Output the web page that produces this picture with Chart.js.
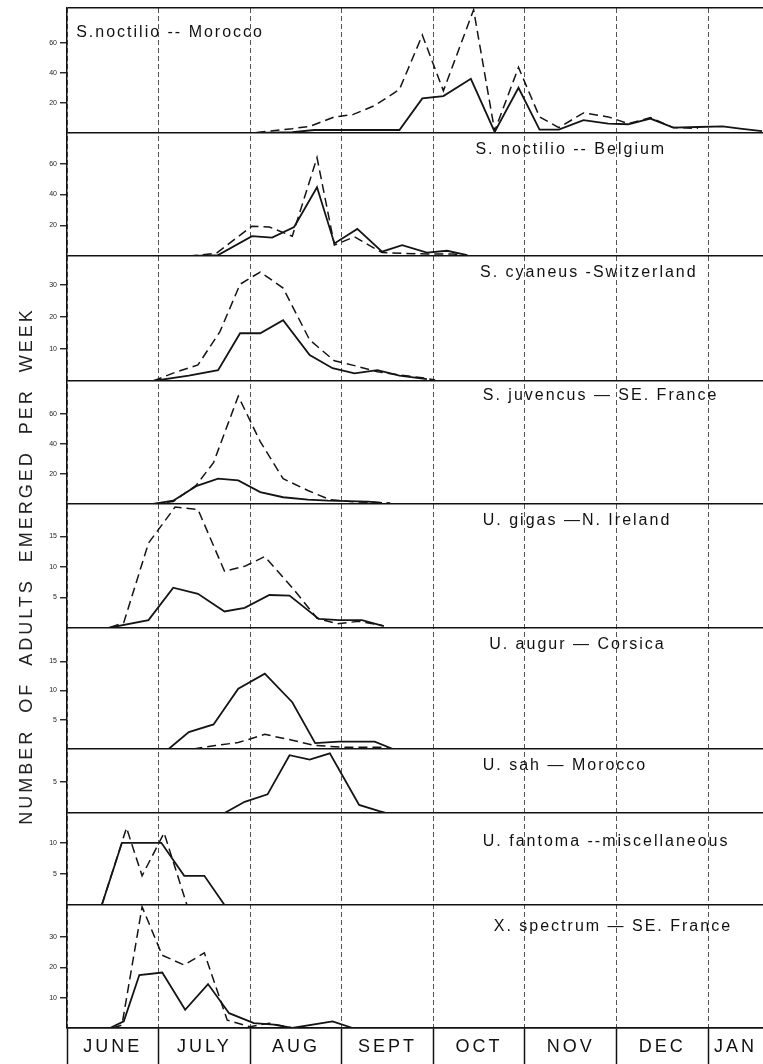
<!DOCTYPE html>
<html>
<head>
<meta charset="utf-8">
<script src="https://cdn.jsdelivr.net/npm/chart.js@4.4.1/dist/chart.umd.min.js"></script>
<style>
html,body{margin:0;padding:0;background:#fff;}
canvas{display:block;}
</style>
</head>
<body>
<canvas id="c" width="763" height="1064"></canvas>
<script>
// ---------- text ----------
const months = ['JUNE','JULY','AUG','SEPT','OCT','NOV','DEC','JAN'];
const panelTitles = [
  'S.noctilio -- Morocco',
  'S. noctilio -- Belgium',
  'S. cyaneus -Switzerland',
  'S. juvencus \u2014 SE. France',
  'U. gigas \u2014N. Ireland',
  'U. augur \u2014 Corsica',
  'U. sah \u2014 Morocco',
  'U. fantoma --miscellaneous',
  'X. spectrum \u2014 SE. France'
];
const yTitle = 'NUMBER  OF  ADULTS  EMERGED  PER  WEEK';

// ---------- tick labels per panel ----------
const panelTicks = [[20,40,60],[20,40,60],[10,20,30],[20,40,60],[5,10,15],[5,10,15],[5],[5,10],[10,20,30]];

// ---------- data (x = months after 1 June, y = adults per week) ----------
// S. noctilio - Morocco
const noctMorSolidX = [2.07,2.46,2.70,3.63,3.88,4.11,4.41,4.67,4.93,5.16,5.37,5.64,5.91,6.13,6.37,6.62,6.89,7.16,7.35,7.59];
const noctMorSolid  = [0,0.5,2,2,23,24.5,36,0.7,30,2.2,2.2,8.5,6.2,5.8,9.6,3.6,4,4.4,2.9,1.3];
const noctMorDashX  = [2.07,2.46,2.65,2.92,3.12,3.36,3.63,3.88,4.11,4.44,4.67,4.93,5.16,5.37,5.64,5.91,6.13,6.37,6.62,6.89];
const noctMorDash   = [0.4,2.9,4.4,10.7,12.2,18.2,28.9,65,28,81.8,1.3,43.6,10.7,3.6,13.3,10.7,6.2,10.2,3.6,3.1];
// S. noctilio - Belgium
const noctBelSolidX = [1.38,1.65,2.02,2.24,2.48,2.73,2.92,3.17,3.44,3.66,3.93,4.15,4.37];
const noctBelSolid  = [0,0.6,12.9,12,18.9,44.7,8.2,17.6,2.8,7.1,2.2,3.4,0.6];
const noctBelDashX  = [1.33,1.63,2.02,2.21,2.46,2.73,2.92,3.14,3.44,3.68,3.93,4.22,4.42];
const noctBelDash   = [0,1.7,19.4,18.9,12.9,64,7.1,12.5,2.2,1.7,1.3,1.3,0];
// S. cyaneus - Switzerland
const cyanSolidX = [0.94,1.33,1.65,1.89,2.11,2.36,2.65,2.90,3.14,3.39,3.63,3.93];
const cyanSolid  = [0,1.7,3.4,14.9,14.9,19,8.1,4,2.4,3.4,1.7,0.6];
const cyanDashX  = [0.94,1.18,1.43,1.67,1.89,2.11,2.36,2.65,2.92,3.14,3.39,3.63,3.88,4.02];
const cyanDash   = [0,2.7,5,15.4,30.2,34,29,12.8,6.3,4.8,2.9,1.9,1,0.3];
// S. juvencus - SE France
const juvSolidX = [0.94,1.16,1.41,1.65,1.87,2.11,2.36,2.63,2.85,3.29,3.44];
const juvSolid  = [0,2.2,11.9,16.9,15.7,7.9,4.5,2.9,2.2,1.6,0.7];
const juvDashX  = [0.94,1.16,1.41,1.60,1.87,2.11,2.36,2.63,2.87,3.09,3.34,3.53];
const juvDash   = [0,1.6,12.4,27.6,71.9,41.6,16.9,9,2.9,1.6,1.1,0.7];
// U. gigas - N. Ireland
const gigasSolidX = [0.45,0.89,1.16,1.43,1.72,1.94,2.21,2.43,2.75,2.97,3.22,3.46];
const gigasSolid  = [0,1.3,6.6,5.6,2.7,3.3,5.4,5.3,1.5,1.3,1.3,0.3];
const gigasDashX  = [0.47,0.62,0.89,1.18,1.43,1.72,1.94,2.16,2.46,2.73,2.95,3.19,3.44];
const gigasDash   = [0.1,0.9,13.9,19.8,19.4,9.3,10.1,11.7,6.6,1.6,0.7,1.1,0.4];
// U. augur - Corsica
const augurSolidX = [1.11,1.33,1.60,1.87,2.16,2.46,2.71,2.97,3.36,3.56];
const augurSolid  = [0,2.9,4.2,10.3,12.9,8,1,1.25,1.25,0];
const augurDashX  = [1.38,1.62,1.87,2.16,2.46,2.71,3.04,3.44,3.56];
const augurDash   = [0,0.6,1.1,2.5,1.5,0.6,0.3,0.3,0];
// U. sah - Morocco
const sahSolidX = [1.72,1.94,2.19,2.43,2.65,2.87,3.19,3.41,3.49];
const sahSolid  = [0,1.8,3,9.3,8.6,9.6,1.3,0.3,0];
// U. fantoma - miscellaneous
const fantSolidX = [0.38,0.60,0.82,1.03,1.28,1.50,1.72];
const fantSolid  = [0,10,10,10,4.7,4.7,0];
const fantDashX  = [0.38,0.65,0.82,1.06,1.31];
const fantDash   = [0,12.4,4.7,11.6,0];
// X. spectrum - SE France
const specSolidX = [0.47,0.62,0.79,1.04,1.29,1.54,1.77,2.04,2.26,2.46,2.90,3.12];
const specSolid  = [0,2.2,17.5,18.3,6,14.5,4.9,1.6,1.1,0,2.2,0];
const specDashX  = [0.50,0.60,0.82,1.04,1.28,1.50,1.75,2.00,2.21,2.46];
const specDash   = [0,1,40,24,20.8,24.8,2.6,0.4,1.6,0];

// ---------- layout (not data) ----------
const panelMax    = [83, 80, 39, 82, 20.3, 20.7, 10.3, 14.8, 40.6];
const panelHeight = [125, 123, 125, 123, 124, 121, 64, 92, 123];
const labelPos    = [[0.10,25],[4.46,17],[4.51,17],[4.54,15],[4.54,17],[4.61,17],[4.54,17],[4.54,29],[4.66,22]];
const xMax = 7.6;
const FONT = "'Liberation Sans', Arial, sans-serif";
const TITLE_PANEL = 4;

const seriesList = [
  [0, noctMorSolidX, noctMorSolid, false], [0, noctMorDashX, noctMorDash, true],
  [1, noctBelSolidX, noctBelSolid, false], [1, noctBelDashX, noctBelDash, true],
  [2, cyanSolidX, cyanSolid, false], [2, cyanDashX, cyanDash, true],
  [3, juvSolidX, juvSolid, false], [3, juvDashX, juvDash, true],
  [4, gigasSolidX, gigasSolid, false], [4, gigasDashX, gigasDash, true],
  [5, augurSolidX, augurSolid, false], [5, augurDashX, augurDash, true],
  [6, sahSolidX, sahSolid, false],
  [7, fantSolidX, fantSolid, false], [7, fantDashX, fantDash, true],
  [8, specSolidX, specSolid, false], [8, specDashX, specDash, true]
];

const datasets = seriesList.map(([p, xs, ys, dashed]) => ({
  type: 'line',
  label: panelTitles[p] + (dashed ? ' (dashed)' : ' (solid)'),
  data: xs.map((x, i) => ({x: x, y: ys[i]})),
  xAxisID: 'x',
  yAxisID: 'y' + (p + 1),
  borderColor: '#141414',
  borderWidth: dashed ? 1.5 : 1.8,
  borderDash: dashed ? [9, 5] : [],
  pointRadius: 0,
  tension: 0,
  fill: false
}));

const scales = {
  x: {
    type: 'linear', position: 'bottom', min: 0, max: xMax,
    afterBuildTicks: (s) => {
      const t = [];
      for (let i = 0; i < months.length; i++) {
        t.push({value: i});
        t.push({value: i === months.length - 1 ? (i + xMax) / 2 : i + 0.5});
      }
      s.ticks = t;
    },
    afterFit: (s) => { s.height = 36; },
    ticks: {
      autoSkip: false, maxRotation: 0, minRotation: 0, padding: -28, z: 1,
      font: {family: FONT, size: 18}, color: '#111',
      callback: (v, i) => (i % 2 === 1 ? months[(i - 1) / 2] : '')
    },
    grid: {
      color: (c) => (c.tick && Number.isInteger(c.tick.value) ? '#555' : 'rgba(0,0,0,0)'),
      lineWidth: 1, tickLength: 36, tickWidth: 1.5, tickBorderDash: [],
      tickColor: (c) => (c.tick && Number.isInteger(c.tick.value) ? '#111' : 'rgba(0,0,0,0)')
    },
    border: {display: true, color: '#111', width: 1.5, dash: [5, 3]}
  }
};

for (let k = 0; k < 9; k++) {
  const max = panelMax[k];
  const tv = panelTicks[k];
  const late = k === TITLE_PANEL;
  scales['y' + (k + 1)] = {
    type: 'linear', position: 'left', stack: 'panels', stackWeight: panelHeight[k], weight: 9 - k,
    min: 0, max: max,
    afterBuildTicks: (s) => {
      const t = [{value: 0}].concat(tv.map(v => ({value: v})));
      if (k === 0) t.push({value: max});
      s.ticks = t;
    },
    afterFit: (s) => { s.width = 67; },
    ticks: {
      autoSkip: false, padding: 3, font: {family: FONT, size: 7}, color: '#222',
      callback: (v) => (tv.includes(v) ? String(v) : '')
    },
    grid: {
      color: (c) => (c.tick && (c.tick.value === 0 || c.tick.value === max) ? '#111' : 'rgba(0,0,0,0)'),
      lineWidth: 1.5, tickLength: 7, tickWidth: 1.3,
      tickColor: (c) => (c.tick && tv.includes(c.tick.value) ? '#111' : 'rgba(0,0,0,0)'),
      z: late ? 1 : -1
    },
    border: {display: true, color: '#111', width: 1.5, z: late ? 1 : 0},
    title: late
      ? {display: true, text: yTitle, font: {family: FONT, size: 18}, color: '#222', padding: {top: 16, bottom: 0}}
      : {display: false}
  };
}

const panelLabelPlugin = {
  id: 'panelLabels',
  afterDatasetsDraw(chart) {
    const ctx = chart.ctx;
    const xs = chart.scales.x;
    ctx.save();
    ctx.letterSpacing = '2px';
    ctx.font = '16px ' + FONT;
    ctx.fillStyle = '#111';
    ctx.textAlign = 'left';
    ctx.textBaseline = 'middle';
    panelTitles.forEach((t, k) => {
      const ys = chart.scales['y' + (k + 1)];
      ctx.fillText(t, xs.getPixelForValue(labelPos[k][0]), ys.top + labelPos[k][1]);
    });
    ctx.restore();
    ctx.letterSpacing = '3px';
  },
  afterDraw(chart) { chart.ctx.letterSpacing = '0px'; }
};

new Chart(document.getElementById('c'), {
  type: 'line',
  data: {datasets: datasets},
  options: {
    responsive: false,
    animation: false,
    devicePixelRatio: 1,
    layout: {padding: {top: 8, left: 0, right: 0, bottom: 0}},
    plugins: {legend: {display: false}, tooltip: {enabled: false}, title: {display: false}},
    scales: scales
  },
  plugins: [panelLabelPlugin]
});
</script>
</body>
</html>
